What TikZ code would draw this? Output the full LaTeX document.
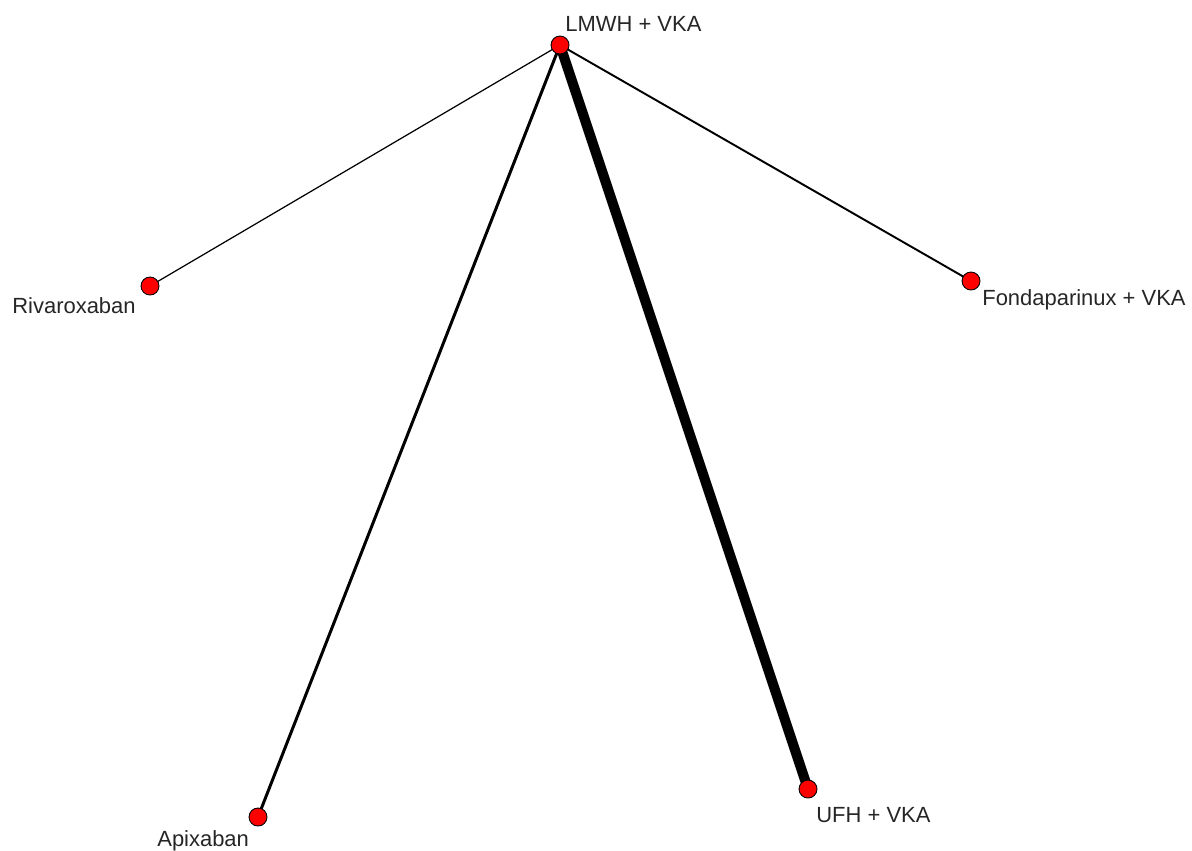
\documentclass[tikz,border=0pt]{standalone}
\usepackage{fontspec}
\setmainfont{Liberation Sans}
\usepackage{xcolor}
\usepackage{tikz}
\usetikzlibrary{positioning}

\begin{document}
\begin{tikzpicture}[
    x=0.02cm, y=-0.02cm,
    trt/.style={circle, draw=black, line width=0.5pt, fill=red, minimum size=0.36cm, inner sep=0pt},
    trtlabel/.style={anchor=base west, inner sep=0pt, text=black!85, font=\fontsize{12.5}{14}\selectfont},
    edge/.style={draw=black, line cap=round}
  ]
    \useasboundingbox (0,0) rectangle (1192,850);

    % treatments
    \coordinate (lmwh) at (560,45);
    \coordinate (riva) at (150,286);
    \coordinate (fonda) at (971,281);
    \coordinate (apix) at (258,817);
    \coordinate (ufh) at (808,789);

    % comparisons
    \draw[edge, line width=0.7pt] (lmwh) -- (riva);
    \draw[edge, line width=1.1pt] (lmwh) -- (fonda);
    \draw[edge, line width=1.7pt] (lmwh) -- (apix);
    \draw[edge, line width=5.7pt] (lmwh) -- (ufh);

    \node[trt] (lmwhdot) at (lmwh) {};
    \node[trt] (rivadot) at (riva) {};
    \node[trt] (fondadot) at (fonda) {};
    \node[trt] (apixdot) at (apix) {};
    \node[trt] (ufhdot) at (ufh) {};

    \node[trtlabel] (lmwhlab) at (565,31) {LMWH + VKA};
    \node[trtlabel] (rivalab) at (12,313) {Rivaroxaban};
    \node[trtlabel] (fondalab) at (982,305) {Fondaparinux + VKA};
    \node[trtlabel] (apixlab) at (157,846) {Apixaban};
    \node[trtlabel] (ufhlab) at (816,822) {UFH + VKA};
  \end{tikzpicture}
\end{document}
